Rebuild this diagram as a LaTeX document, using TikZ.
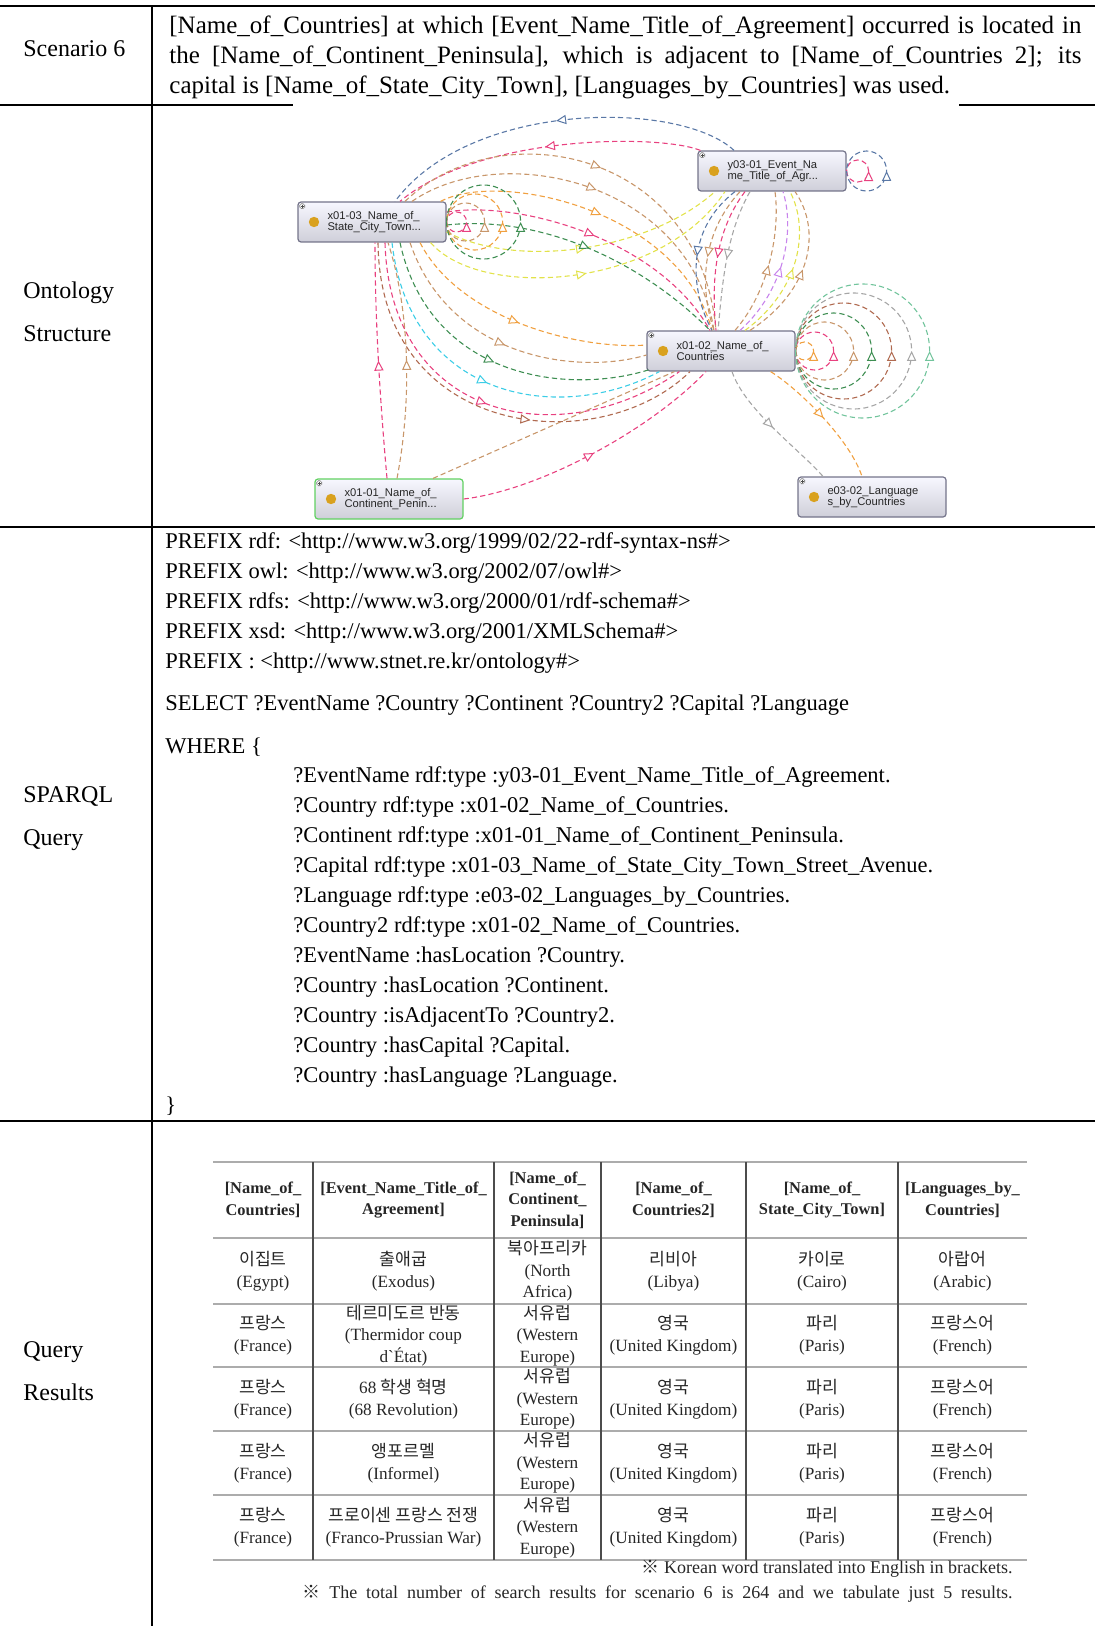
\documentclass[tikz,border=0pt]{standalone}
\usepackage{fontspec}
\setmainfont{Liberation Serif}
\newfontfamily\krfont{Noto Sans CJK KR}
\newfontfamily\owlfont{Liberation Sans}
\usetikzlibrary{arrows.meta,decorations.markings,calc}

\definecolor{owlpink}{HTML}{E8417F}
\definecolor{owlorange}{HTML}{F0A040}
\definecolor{owltan}{HTML}{C8966A}
\definecolor{owlbrown}{HTML}{B06A50}
\definecolor{owlgreen}{HTML}{3E8E52}
\definecolor{owlyellow}{HTML}{E2E24A}
\definecolor{owlcyan}{HTML}{3CCDE6}
\definecolor{owlblue}{HTML}{5A78A6}
\definecolor{owlgray}{HTML}{A6A6A6}
\definecolor{owllgreen}{HTML}{72C49C}
\definecolor{owlviolet}{HTML}{C884EC}
\definecolor{owldot}{HTML}{D9A11E}
\definecolor{owledge}{HTML}{74748A}

\newcommand{\kr}[1]{{\krfont #1}}

\tikzset{
  rowhead/.style={anchor=west, inner sep=0pt, align=left, font=\fontsize{12}{15}\selectfont},
  scentext/.style={anchor=west, inner sep=0pt, align=left, font=\fontsize{12.5}{15}\selectfont},
  sparql/.style={anchor=west, inner sep=0pt, align=left, font=\fontsize{11.25}{15}\selectfont},
  owlclass/.style={draw=owledge, line width=0.6pt, rounded corners=1.5pt, top color=blue!3, bottom color=blue!12!gray!34,
    minimum height=20pt, text width=70pt, inner xsep=2pt, inner ysep=1pt, align=left,
    font=\owlfont\fontsize{5.6}{5.7}\selectfont, text=black!85,
    path picture={
      \fill[owldot] ([xshift=8pt]path picture bounding box.west) circle (2.6pt);
      \draw[gray, fill=white, line width=0.2pt] ([shift={(0.8pt,-0.8pt)}]path picture bounding box.north west) rectangle ++(2.6pt,-2.6pt);
      \draw[black!70, line width=0.25pt] ([shift={(1.3pt,-2.1pt)}]path picture bounding box.north west) -- ++(1.6pt,0)
        ([shift={(2.1pt,-1.3pt)}]path picture bounding box.north west) -- ++(0,-1.6pt);}},
  rel/.style={dash pattern=on 2.6pt off 1.6pt, line width=0.55pt},
  midtip/.style={postaction={decorate}, decoration={markings, mark=at position #1 with {\arrow{Triangle[fill=white, length=5pt, width=4.6pt, line width=0.5pt]}}}},
  midtip/.default=0.5,
  cell/.style={align=center, inner sep=0pt, font=\fontsize{8.6}{10.8}\selectfont, text=black!85},
  headcell/.style={cell, font=\bfseries\fontsize{8.2}{10.8}\selectfont},
  tabrule/.style={gray!65, line width=1.1pt},
}

\begin{document}
\begin{tikzpicture}[x=0.5pt, y=-0.5pt]
    \useasboundingbox (0,0) rectangle (1095,1626);

    % Frame of the table
    \draw[line width=1pt] (0,6) -- (1095,6);
    \draw[line width=0.9pt] (0,105) -- (293,105);
    \draw[line width=0.9pt] (959,105) -- (1095,105);
    \draw[line width=0.9pt] (0,527) -- (1095,527);
    \draw[line width=0.9pt] (0,1121) -- (1095,1121);
    \draw[line width=0.8pt] (152,6) -- (152,1626);

    % Row heads
    \node[rowhead] (hscen) at (23,49) {Scenario 6};
    \node[rowhead] (honto) at (23,312) {Ontology\\[6.5pt]Structure};
    \node[rowhead] (hquery) at (23,819) {SPARQL\\[6.5pt]Query};
    \node[rowhead] (hres) at (23,1371) {Query\\[6.5pt]Results};

    % Scenario
    \node[scentext] (scen) at (169,57) {\makebox[456pt][s]{[Name\_of\_Countries] at which [Event\_Name\_Title\_of\_Agreement] occurred is located in}\\
      \makebox[456pt][s]{the [Name\_of\_Continent\_Peninsula], which is adjacent to [Name\_of\_Countries 2]; its}\\
      capital is [Name\_of\_State\_City\_Town], [Languages\_by\_Countries] was used.};

    % Ontology classes
    \node[owlclass] (city) at (372,222) {\hspace*{12.75pt}x01-03\_Name\_of\_\\\hspace*{12.75pt}State\_City\_Town...};
    \node[owlclass] (event) at (772,171) {\hspace*{12.75pt}y03-01\_Event\_Na\\\hspace*{12.75pt}me\_Title\_of\_Agr...};
    \node[owlclass] (country) at (721,351) {\hspace*{12.75pt}x01-02\_Name\_of\_\\\hspace*{12.75pt}Countries};
    \node[owlclass, draw=green!55!gray!80] (continent) at (389,499) {\hspace*{12.75pt}x01-01\_Name\_of\_\\\hspace*{12.75pt}Continent\_Penin...};
    \node[owlclass] (lang) at (872,497) {\hspace*{12.75pt}e03-02\_Language\\\hspace*{12.75pt}s\_by\_Countries};

    % City <-> Event, over the top
    \draw[rel, owlblue, midtip] ($(event.north)+(-38,0)$) .. controls (680,100) and (470,100) .. ($(city.north)+(23,0)$);
    \draw[rel, owlpink, midtip] ($(event.north west)+(3,0)$) .. controls (660,134) and (480,134) .. ($(city.north)+(28,0)$);
    \draw[rel, owlyellow, midtip] ($(city.east)+(0,10)$) .. controls (520,270) and (650,250) .. ($(event.south)+(-57,0)$);
    \draw[rel, owlyellow, midtip] ($(city.south east)+(-16,0)$) .. controls (480,300) and (660,290) .. ($(event.south)+(-47,0)$);

    % City -> Country, upper arcs
    \draw[rel, owltan, midtip] ($(city.north)+(33,0)$) .. controls (500,110) and (700,150) .. ($(country.north)+(-5,0)$);
    \draw[rel, owltan, midtip] ($(city.north)+(40,0)$) .. controls (500,140) and (690,180) .. ($(country.north)+(-7,0)$);
    \draw[rel, owlorange, midtip] ($(city.north east)+(-6,0)$) .. controls (500,170) and (680,210) .. ($(country.north)+(-9,0)$);
    \draw[rel, owlpink, midtip] ($(city.east)+(0,-10)$) .. controls (520,200) and (660,240) .. ($(country.north)+(-11,0)$);
    \draw[rel, owlgreen, midtip] ($(city.east)+(0,3)$) .. controls (540,215) and (640,260) .. ($(country.north)+(-11,0)$);

    % City -> Country, lower arcs
    \draw[rel, owlorange, midtip] ($(city.south)+(48,0)$) .. controls (460,320) and (580,350) .. ($(country.west)+(0,-6)$);
    \draw[rel, owltan, midtip] ($(city.south)+(38,0)$) .. controls (450,360) and (580,375) .. ($(country.west)+(0,4)$);
    \draw[rel, owlgreen, midtip] ($(city.south)+(28,0)$) .. controls (430,380) and (570,395) .. ($(country.south west)+(3,-2)$);
    \draw[rel, owlcyan, midtip] ($(city.south)+(20,0)$) .. controls (410,400) and (560,425) .. ($(country.south west)+(13,0)$);
    \draw[rel, owlpink, midtip] ($(city.south)+(13,0)$) .. controls (390,420) and (560,455) .. ($(country.south west)+(33,0)$);
    \draw[rel, owlbrown, midtip=0.6] ($(city.south)+(6,0)$) .. controls (380,440) and (600,460) .. ($(country.south)+(-31,0)$);

    % Event <-> Country
    \draw[rel, owlblue, midtip] ($(event.south)+(-37,0)$) .. controls (685,230) and (690,290) .. ($(country.north)+(-9,0)$);
    \draw[rel, owltan, midtip] ($(event.south)+(-32,0)$) .. controls (700,235) and (700,290) .. ($(country.north)+(-7,0)$);
    \draw[rel, owlpink, midtip] ($(event.south)+(-27,0)$) .. controls (712,235) and (712,290) .. ($(country.north)+(-5,0)$);
    \draw[rel, owlgray, midtip] ($(event.south)+(-22,0)$) .. controls (725,235) and (722,290) .. ($(country.north)+(-3,0)$);
    \draw[rel, owltan, midtip] ($(country.north)+(14,0)$) .. controls (770,290) and (780,230) .. ($(event.south)+(3,0)$);
    \draw[rel, owlviolet, midtip] ($(country.north)+(19,0)$) .. controls (785,290) and (795,230) .. ($(event.south)+(11,0)$);
    \draw[rel, owlyellow, midtip] ($(country.north)+(24,0)$) .. controls (800,290) and (810,230) .. ($(event.south)+(18,0)$);
    \draw[rel, owltan, midtip] ($(country.north)+(29,0)$) .. controls (812,290) and (822,230) .. ($(event.south)+(23,0)$);

    % Continent
    \draw[rel, owlpink, midtip] ($(continent.north)+(-2,0)$) .. controls (380,400) and (375,320) .. ($(city.south)+(3,0)$);
    \draw[rel, owltan, midtip] ($(continent.north)+(8,0)$) .. controls (412,400) and (410,310) .. ($(city.south)+(16,0)$);
    \draw[rel, owltan] ($(continent.north)+(44,0)$) -- ($(country.south west)+(28,0)$);
    \draw[rel, owlpink, midtip] (continent.east) .. controls (540,490) and (650,430) .. ($(country.south)+(-15,0)$);

    % Language
    \draw[rel, owlgray, midtip] ($(country.south)+(11,0)$) .. controls (745,410) and (800,450) .. ($(lang.north)+(-49,0)$);
    \draw[rel, owlorange, midtip] ($(country.south east)+(-25,0)$) .. controls (800,390) and (850,440) .. ($(lang.north)+(-10,0)$);

    % Self loops
    \draw[rel, owlpink, midtip] (city.east) arc[start angle=180, end angle=-180, radius=10];
    \draw[rel, owltan, midtip] (city.east) arc[start angle=180, end angle=-180, radius=19];
    \draw[rel, owlorange, midtip] (city.east) arc[start angle=180, end angle=-180, radius=28];
    \draw[rel, owlgreen, midtip] (city.east) arc[start angle=180, end angle=-180, radius=37];
    \draw[rel, owlpink, midtip] (event.east) arc[start angle=180, end angle=-180, radius=11];
    \draw[rel, owlblue, midtip] (event.east) arc[start angle=180, end angle=-180, radius=20];
    \draw[rel, owlorange, midtip] (country.east) arc[start angle=180, end angle=-180, radius=9];
    \draw[rel, owlpink, midtip] (country.east) arc[start angle=180, end angle=-180, radius=19];
    \draw[rel, owltan, midtip] (country.east) arc[start angle=180, end angle=-180, radius=29];
    \draw[rel, owlgreen, midtip] (country.east) arc[start angle=180, end angle=-180, radius=38];
    \draw[rel, owlbrown, midtip] (country.east) arc[start angle=180, end angle=-180, radius=48];
    \draw[rel, owlgray, midtip] (country.east) arc[start angle=180, end angle=-180, radius=58];
    \draw[rel, owllgreen, midtip] (country.east) arc[start angle=180, end angle=-180, radius=67];

    % SPARQL query
    \node[sparql] (prefix) at (165,603) {PREFIX rdf: <http://www.w3.org/1999/02/22-rdf-syntax-ns\#>\\
      PREFIX owl: <http://www.w3.org/2002/07/owl\#>\\
      PREFIX rdfs: <http://www.w3.org/2000/01/rdf-schema\#>\\
      PREFIX xsd: <http://www.w3.org/2001/XMLSchema\#>\\
      PREFIX : <http://www.stnet.re.kr/ontology\#>};
    \node[sparql] (select) at (165,705) {SELECT ?EventName ?Country ?Continent ?Country2 ?Capital ?Language};
    \node[sparql] (where) at (165,747) {WHERE \{};
    \node[sparql] (triples) at (293,927) {?EventName rdf:type :y03-01\_Event\_Name\_Title\_of\_Agreement.\\
      ?Country rdf:type :x01-02\_Name\_of\_Countries.\\
      ?Continent rdf:type :x01-01\_Name\_of\_Continent\_Peninsula.\\
      ?Capital rdf:type :x01-03\_Name\_of\_State\_City\_Town\_Street\_Avenue.\\
      ?Language rdf:type :e03-02\_Languages\_by\_Countries.\\
      ?Country2 rdf:type :x01-02\_Name\_of\_Countries.\\
      ?EventName :hasLocation ?Country.\\
      ?Country :hasLocation ?Continent.\\
      ?Country :isAdjacentTo ?Country2.\\
      ?Country :hasCapital ?Capital.\\
      ?Country :hasLanguage ?Language.};
    \node[sparql] (close) at (165,1106) {\}};

    % Result table rules
    \draw[tabrule] (213,1162) -- (1027,1162);
    \draw[tabrule] (213,1238) -- (1027,1238);
    \draw[tabrule] (213,1304) -- (1027,1304);
    \draw[tabrule] (213,1367) -- (1027,1367);
    \draw[tabrule] (213,1431) -- (1027,1431);
    \draw[tabrule] (213,1495) -- (1027,1495);
    \draw[tabrule] (213,1560) -- (1027,1560);
    \draw[black!70, line width=0.6pt] (313,1162) -- (313,1560);
    \draw[black!70, line width=0.6pt] (494,1162) -- (494,1560);
    \draw[black!70, line width=0.6pt] (601,1162) -- (601,1560);
    \draw[black!70, line width=0.6pt] (746,1162) -- (746,1560);
    \draw[black!70, line width=0.6pt] (898,1162) -- (898,1560);

    % Header
    \node[headcell] (h1) at (263,1200) {[Name\_of\_\\Countries]};
    \node[headcell] (h2) at (403.5,1200) {[Event\_Name\_Title\_of\_\\Agreement]};
    \node[headcell] (h3) at (547.5,1200) {[Name\_of\_\\Continent\_\\Peninsula]};
    \node[headcell] (h4) at (673.5,1200) {[Name\_of\_\\Countries2]};
    \node[headcell] (h5) at (822,1200) {[Name\_of\_\\State\_City\_Town]};
    \node[headcell] (h6) at (962.5,1200) {[Languages\_by\_\\Countries]};

    % Row 1
    \node[cell] (r1c1) at (263,1271) {\kr{이집트}\\(Egypt)};
    \node[cell] (r1c2) at (403.5,1271) {\kr{출애굽}\\(Exodus)};
    \node[cell] (r1c3) at (547.5,1271) {\kr{북아프리카}\\(North\\Africa)};
    \node[cell] (r1c4) at (673.5,1271) {\kr{리비아}\\(Libya)};
    \node[cell] (r1c5) at (822,1271) {\kr{카이로}\\(Cairo)};
    \node[cell] (r1c6) at (962.5,1271) {\kr{아랍어}\\(Arabic)};

    % Row 2
    \node[cell] (r2c1) at (263,1335.5) {\kr{프랑스}\\(France)};
    \node[cell] (r2c2) at (403.5,1335.5) {\kr{테르미도르 반동}\\(Thermidor coup\\d\textasciigrave{}État)};
    \node[cell] (r2c3) at (547.5,1335.5) {\kr{서유럽}\\(Western\\Europe)};
    \node[cell] (r2c4) at (673.5,1335.5) {\kr{영국}\\(United Kingdom)};
    \node[cell] (r2c5) at (822,1335.5) {\kr{파리}\\(Paris)};
    \node[cell] (r2c6) at (962.5,1335.5) {\kr{프랑스어}\\(French)};

    % Row 3
    \node[cell] (r3c1) at (263,1399) {\kr{프랑스}\\(France)};
    \node[cell] (r3c2) at (403.5,1399) {68 \kr{학생 혁명}\\(68 Revolution)};
    \node[cell] (r3c3) at (547.5,1399) {\kr{서유럽}\\(Western\\Europe)};
    \node[cell] (r3c4) at (673.5,1399) {\kr{영국}\\(United Kingdom)};
    \node[cell] (r3c5) at (822,1399) {\kr{파리}\\(Paris)};
    \node[cell] (r3c6) at (962.5,1399) {\kr{프랑스어}\\(French)};

    % Row 4
    \node[cell] (r4c1) at (263,1463) {\kr{프랑스}\\(France)};
    \node[cell] (r4c2) at (403.5,1463) {\kr{앵포르멜}\\(Informel)};
    \node[cell] (r4c3) at (547.5,1463) {\kr{서유럽}\\(Western\\Europe)};
    \node[cell] (r4c4) at (673.5,1463) {\kr{영국}\\(United Kingdom)};
    \node[cell] (r4c5) at (822,1463) {\kr{파리}\\(Paris)};
    \node[cell] (r4c6) at (962.5,1463) {\kr{프랑스어}\\(French)};

    % Row 5
    \node[cell] (r5c1) at (263,1527.5) {\kr{프랑스}\\(France)};
    \node[cell] (r5c2) at (403.5,1527.5) {\kr{프로이센 프랑스 전쟁}\\(Franco-Prussian War)};
    \node[cell] (r5c3) at (547.5,1527.5) {\kr{서유럽}\\(Western\\Europe)};
    \node[cell] (r5c4) at (673.5,1527.5) {\kr{영국}\\(United Kingdom)};
    \node[cell] (r5c5) at (822,1527.5) {\kr{파리}\\(Paris)};
    \node[cell] (r5c6) at (962.5,1527.5) {\kr{프랑스어}\\(French)};

    % Notes
    \node[cell, anchor=east, font=\fontsize{9}{11}\selectfont] (note1) at (1013,1569) {\kr{※} Korean word translated into English in brackets.};
    \node[cell, anchor=east, font=\fontsize{9}{11}\selectfont] (note2) at (1013,1594) {\makebox[355pt][s]{\kr{※} The total number of search results for scenario 6 is 264 and we tabulate just 5 results.}};
\end{tikzpicture}
\end{document}
